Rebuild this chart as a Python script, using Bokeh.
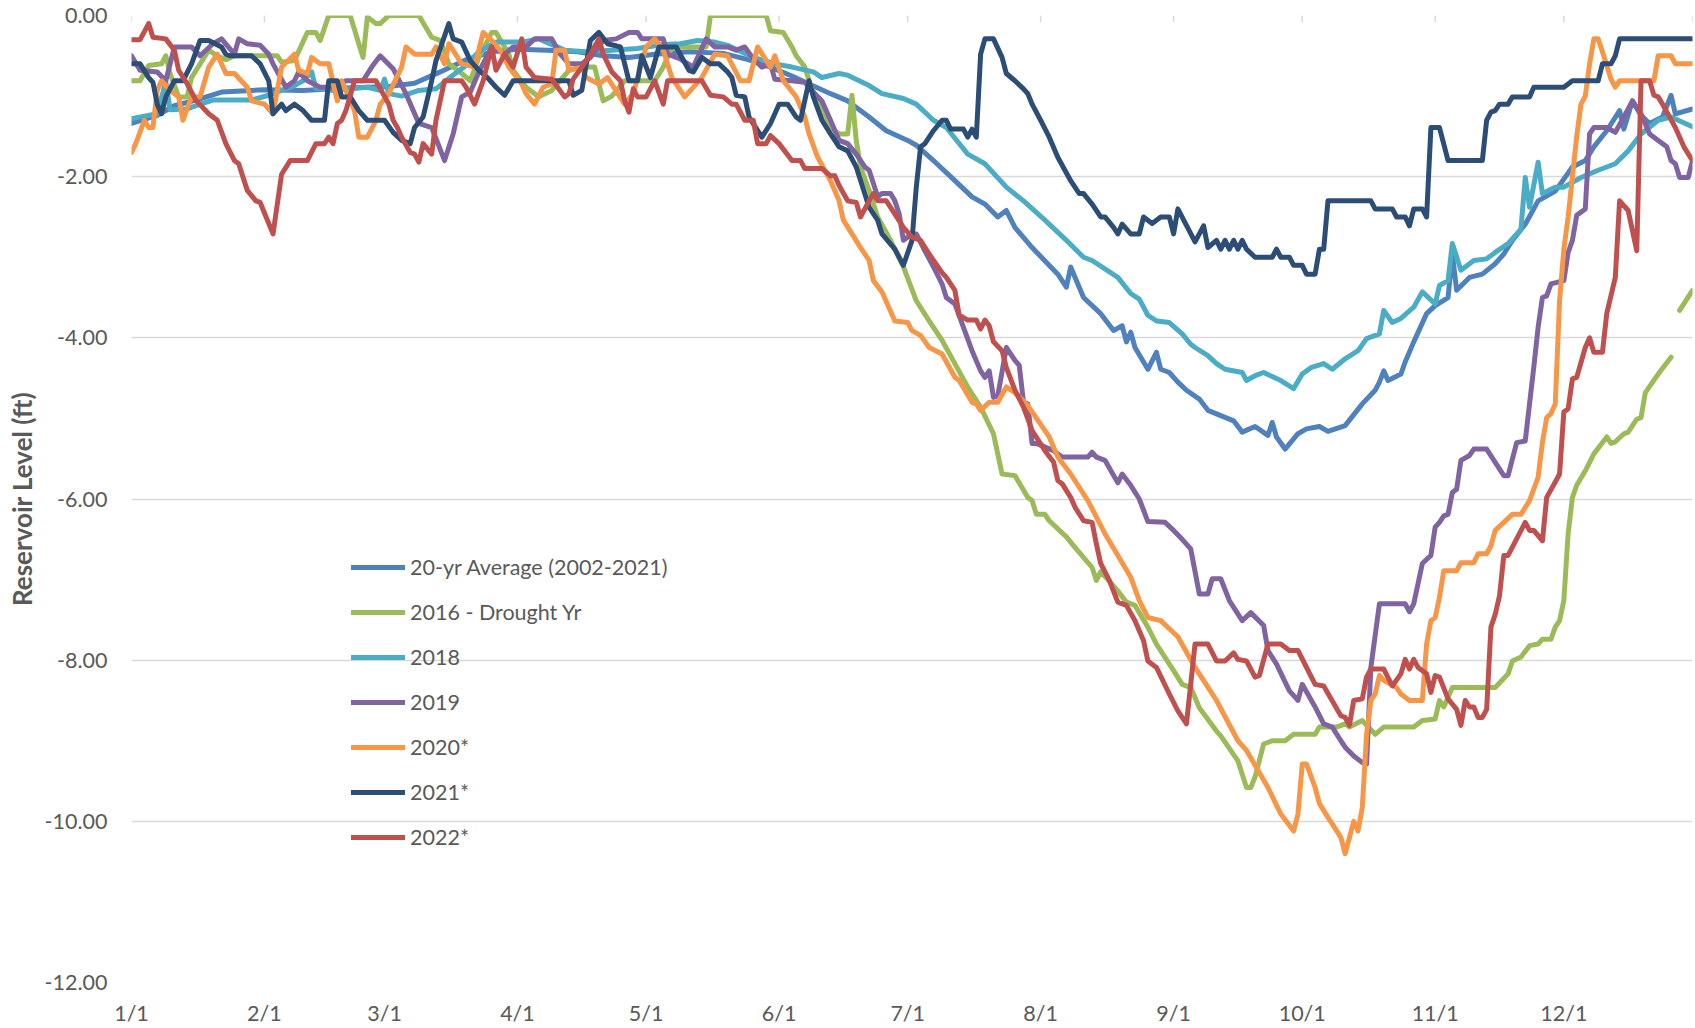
import numpy as np
from bokeh.plotting import figure
from bokeh.models import FixedTicker, Legend, LegendItem, NumeralTickFormatter, Range1d
from bokeh.embed import file_html
from bokeh.resources import INLINE

# ---------------- data (day of year from 1/1, reservoir level in ft) ----------------
month_ticks = [0, 31, 59, 90, 120, 151, 181, 212, 243, 273, 304, 334]
month_labels = ["1/1", "2/1", "3/1", "4/1", "5/1", "6/1", "7/1", "8/1", "9/1", "10/1", "11/1", "12/1"]
axis_end_day = 364
y_ticks = [0, -2, -4, -6, -8, -10, -12]

series_names = ["20-yr Average (2002-2021)", "2016 - Drought Yr", "2018", "2019", "2020*", "2021*", "2022*"]
series_colors = ["#4F81BD", "#9BBB59", "#4BACC6", "#8064A2", "#F79646", "#2C4D75", "#C0504D"]

avg_pts = [(0,-1.34),(6,-1.24),(10,-1.12),(15,-1.05),(21,-0.95),(28,-0.93),(31,-0.92),(40,-0.93),
    (50,-0.90),(60,-0.88),(66,-0.84),(72,-0.70),(78,-0.55),(84,-0.45),(90,-0.42),(97,-0.43),(104,-0.45),
    (110,-0.50),(116,-0.52),(122,-0.48),(130,-0.45),(138,-0.47),(144,-0.55),(149,-0.64),(154,-0.75),
    (158,-0.85),(163,-0.97),(167,-1.06),(172,-1.26),(176,-1.43),(181,-1.55),(183,-1.61),(187,-1.80),
    (192,-2.05),(196,-2.25),(199,-2.34),(202,-2.50),(204,-2.42),(206,-2.63),(210,-2.88),(216,-3.21),
    (218,-3.37),(219,-3.12),(222,-3.50),(226,-3.70),(229,-3.91),(231,-3.85),(232,-4.05),(233,-3.93),
    (234,-4.12),(237,-4.39),(239,-4.18),(240,-4.39),(242,-4.43),(244,-4.55),(246,-4.65),(249,-4.76),
    (251,-4.90),(257,-5.03),(259,-5.17),(262,-5.10),(265,-5.21),(266,-5.05),(267,-5.23),(269,-5.38),
    (272,-5.19),(274,-5.13),(277,-5.10),(279,-5.16),(283,-5.09),(287,-4.82),(290,-4.65),(291,-4.55),
    (292,-4.41),(293,-4.53),(296,-4.45),(297,-4.30),(299,-4.05),(302,-3.70),(304,-3.60),(307,-3.50),
    (308,-2.96),(309,-3.41),(312,-3.25),(315,-3.21),(318,-3.08),(320,-2.96),(322,-2.79),(325,-2.59),
    (328,-2.30),(332,-2.18),(336,-1.88),(339,-1.80),(341,-1.63),(344,-1.43),(347,-1.18),(348,-1.41),
    (350,-1.06),(352,-1.24),(354,-1.34),(357,-1.26),(359,-0.99),(360,-1.22),(364,-1.16)]

y2016_pts = [(0,-0.81),(2,-0.81),(4,-0.62),(7,-0.60),(8,-0.50),(9,-0.72),(11,-1.01),(13,-1.01),
    (14,-0.77),(16,-0.60),(18,-0.43),(20,-0.50),(22,-0.55),(24,-0.50),(34,-0.50),(35,-0.58),(38,-0.56),
    (41,-0.21),(43,-0.21),(44,-0.31),(46,0.0),(51,0.0),(53,-0.35),(54,-0.52),(55,-0.02),(57,-0.10),
    (58,-0.10),(60,0.0),(67,0.0),(70,-0.27),(72,-0.31),(74,-0.60),(77,-0.72),(79,-0.81),(81,-0.52),
    (84,-0.21),(85,-0.21),(88,-0.48),(89,-0.68),(92,-0.89),(95,-1.01),(98,-0.93),(102,-0.68),(105,-0.64),
    (108,-0.64),(110,-1.06),(112,-1.00),(115,-0.81),(122,-0.81),(124,-0.64),(126,-0.39),(134,-0.39),
    (135,0.0),(148,0.0),(149,-0.19),(152,-0.21),(154,-0.39),(155,-0.50),(157,-0.64),(158,-0.81),
    (159,-0.97),(161,-1.18),(163,-1.39),(165,-1.47),(167,-1.47),(168,-0.99),(169,-1.55),(170,-1.88),
    (172,-2.17),(174,-2.50),(177,-2.79),(180,-3.12),(183,-3.54),(186,-3.79),(189,-4.03),(192,-4.32),
    (195,-4.61),(198,-4.86),(201,-5.19),(203,-5.69),(206,-5.71),(209,-5.98),(210,-6.02),(211,-6.19),
    (213,-6.19),(214,-6.27),(218,-6.47),(220,-6.60),(224,-6.85),(225,-7.01),(226,-6.90),(230,-7.14),
    (232,-7.28),(234,-7.32),(237,-7.59),(239,-7.80),(243,-8.13),(245,-8.30),(247,-8.34),(249,-8.59),
    (253,-8.88),(254,-8.94),(258,-9.25),(260,-9.58),(261,-9.58),(262,-9.45),(264,-9.04),(266,-9.00),
    (269,-9.00),(271,-8.92),(276,-8.92),(277,-8.83),(281,-8.83),(283,-8.79),(284,-8.83),(287,-8.75),
    (290,-8.92),(292,-8.83),(299,-8.83),(301,-8.75),(304,-8.73),(305,-8.50),(306,-8.58),(308,-8.34),
    (318,-8.34),(321,-8.17),(322,-8.01),(324,-7.96),(326,-7.82),(328,-7.80),(329,-7.74),(331,-7.74),
    (332,-7.59),(333,-7.51),(334,-7.26),(335,-6.43),(336,-5.98),(337,-5.83),(339,-5.65),(341,-5.44),
    (344,-5.23),(345,-5.31),(346,-5.29),(348,-5.19),(349,-5.17),(351,-5.01),(352,-4.99),(353,-4.68),
    (356,-4.45),(359,-4.24),(360,None),(361,-3.66),(364,-3.41)]

y2018_pts = [(0,-1.28),(6,-1.22),(8,-0.82),(9,-1.17),(13,-1.16),(16,-1.10),(19,-1.05),(24,-1.05),
    (28,-1.05),(32,-0.99),(35,-0.93),(38,-0.87),(40,-0.81),(42,-0.70),(43,-0.90),(47,-0.93),(51,-0.91),
    (55,-0.89),(58,-0.93),(59,-0.79),(60,-0.97),(63,-1.00),(67,-0.93),(71,-0.91),(74,-0.78),(78,-0.62),
    (81,-0.45),(85,-0.33),(91,-0.33),(95,-0.29),(101,-0.43),(106,-0.45),(112,-0.43),(118,-0.41),
    (124,-0.36),(128,-0.35),(132,-0.31),(136,-0.33),(139,-0.37),(145,-0.52),(150,-0.60),(154,-0.64),
    (159,-0.70),(161,-0.77),(165,-0.72),(167,-0.74),(172,-0.87),(175,-0.97),(180,-1.03),(183,-1.10),
    (187,-1.30),(190,-1.39),(195,-1.72),(199,-1.84),(204,-2.13),(208,-2.30),(213,-2.54),(218,-2.79),
    (222,-3.00),(224,-3.04),(230,-3.25),(233,-3.45),(235,-3.52),(237,-3.72),(239,-3.79),(242,-3.81),
    (245,-3.95),(247,-4.08),(248,-4.12),(251,-4.22),(253,-4.32),(255,-4.39),(259,-4.43),(260,-4.53),
    (262,-4.47),(264,-4.43),(268,-4.53),(271,-4.63),(273,-4.45),(275,-4.37),(278,-4.32),(280,-4.39),
    (283,-4.26),(286,-4.16),(288,-4.01),(291,-3.95),(292,-3.66),(294,-3.81),(296,-3.76),(299,-3.62),
    (301,-3.43),(304,-3.58),(305,-3.35),(307,-3.29),(308,-2.83),(310,-3.16),(313,-3.04),(316,-3.02),
    (318,-2.94),(321,-2.83),(324,-2.65),(325,-2.01),(326,-2.38),(328,-1.82),(329,-2.21),(332,-2.13),
    (334,-2.13),(338,-2.01),(342,-1.92),(346,-1.84),(349,-1.68),(352,-1.47),(356,-1.30),(359,-1.26),
    (364,-1.38)]

y2019_pts = [(0,-0.50),(2,-0.68),(6,-0.70),(8,-0.81),(10,-0.39),(14,-0.39),(16,-0.50),(19,-0.35),
    (21,-0.29),(24,-0.48),(25,-0.29),(27,-0.35),(30,-0.37),(32,-0.48),(33,-0.60),(36,-0.89),(38,-0.81),
    (39,-0.70),(41,-0.81),(44,-0.89),(47,-0.89),(50,-0.81),(54,-0.81),(56,-0.64),(58,-0.50),(61,-0.66),
    (64,-0.97),(67,-1.34),(70,-1.39),(73,-1.80),(75,-1.47),(77,-1.01),(79,-0.95),(81,-0.70),(84,-0.39),
    (87,-0.48),(89,-0.39),(92,-0.39),(94,-0.29),(98,-0.29),(100,-0.48),(102,-0.60),(105,-0.60),
    (107,-0.52),(110,-0.31),(113,-0.29),(116,-0.21),(118,-0.21),(119,-0.29),(124,-0.29),(125,-0.48),
    (128,-0.54),(131,-0.64),(134,-0.29),(136,-0.39),(139,-0.39),(141,-0.43),(143,-0.39),(145,-0.54),
    (147,-0.64),(149,-0.60),(150,-0.79),(154,-0.81),(157,-0.83),(159,-0.95),(161,-1.06),(163,-1.30),
    (165,-1.55),(167,-1.59),(169,-1.72),(171,-1.88),(172,-1.92),(174,-2.25),(175,-2.21),(177,-2.21),
    (178,-2.30),(179,-2.46),(180,-2.79),(182,-2.71),(183,-2.71),(185,-2.92),(187,-3.12),(189,-3.33),
    (190,-3.50),(192,-3.58),(194,-3.87),(196,-4.16),(198,-4.41),(199,-4.49),(200,-4.41),(201,-4.74),
    (202,-4.72),(204,-4.12),(206,-4.28),(207,-4.34),(208,-4.80),(209,-4.82),(210,-5.31),(211,-5.31),
    (215,-5.40),(217,-5.48),(223,-5.48),(224,-5.42),(225,-5.48),(227,-5.52),(230,-5.80),(231,-5.69),
    (233,-5.83),(235,-6.00),(237,-6.28),(241,-6.29),(243,-6.39),(245,-6.50),(247,-6.62),(249,-7.18),
    (251,-7.18),(252,-6.99),(254,-6.99),(256,-7.26),(259,-7.51),(261,-7.41),(264,-7.57),(265,-7.88),
    (267,-8.05),(270,-8.38),(272,-8.50),(273,-8.30),(276,-8.58),(278,-8.79),(280,-8.83),(282,-9.00),
    (283,-9.08),(285,-9.19),(287,-9.27),(288,-9.29),(289,-8.09),(291,-7.30),(297,-7.30),(298,-7.40),
    (299,-7.30),(301,-6.80),(303,-6.70),(304,-6.35),(305,-6.29),(306,-6.21),(307,-6.19),(308,-5.92),
    (309,-5.88),(310,-5.52),(312,-5.46),(313,-5.38),(316,-5.38),(320,-5.71),(321,-5.71),(323,-5.30),
    (325,-5.28),(326,-4.82),(327,-4.36),(328,-3.87),(329,-3.50),(330,-3.48),(331,-3.33),(334,-3.29),
    (335,-2.94),(336,-2.79),(337,-2.48),(339,-2.40),(340,-1.47),(341,-1.39),(344,-1.39),(346,-1.45),
    (348,-1.26),(350,-1.06),(352,-1.22),(354,-1.47),(356,-1.55),(358,-1.63),(359,-1.80),(360,-1.84),
    (361,-2.01),(363,-2.01),(364,-1.80)]

y2020_pts = [(0,-1.70),(1,-1.59),(3,-1.30),(4,-1.39),(5,-1.39),(6,-0.93),(7,-0.81),(9,-0.93),
    (11,-1.01),(12,-1.30),(14,-1.01),(16,-1.01),(18,-0.64),(20,-0.48),(22,-0.72),(24,-0.72),(27,-0.89),
    (28,-1.06),(31,-1.10),(33,-1.22),(35,-0.64),(38,-0.48),(39,-0.68),(41,-0.72),(42,-0.52),(44,-0.60),
    (46,-0.60),(48,-1.06),(49,-0.81),(52,-1.18),(53,-1.51),(55,-1.51),(57,-1.30),(58,-1.10),(60,-0.97),
    (63,-0.64),(64,-0.39),(66,-0.48),(70,-0.48),(71,-0.39),(73,-0.60),(74,-0.35),(77,-0.60),(80,-0.64),
    (82,-0.21),(84,-0.31),(86,-0.43),(88,-0.64),(91,-0.85),(92,-0.97),(94,-1.10),(96,-0.89),(98,-0.85),
    (99,-0.43),(101,-0.43),(102,-0.68),(105,-0.64),(106,-0.77),(109,-0.85),(111,-0.77),(115,-1.10),
    (117,-0.97),(120,-0.39),(122,-0.29),(124,-0.43),(126,-0.77),(129,-1.01),(133,-0.77),(136,-0.48),
    (139,-0.50),(142,-0.81),(144,-0.81),(146,-0.39),(149,-0.64),(150,-0.50),(152,-0.81),(155,-1.01),
    (157,-1.26),(158,-1.47),(160,-1.76),(163,-2.05),(165,-2.30),(166,-2.54),(168,-2.71),(170,-2.88),
    (172,-3.04),(173,-3.29),(175,-3.43),(178,-3.79),(181,-3.81),(182,-3.91),(184,-3.97),(186,-4.12),
    (189,-4.20),(192,-4.49),(193,-4.53),(196,-4.80),(197,-4.82),(198,-4.90),(200,-4.80),(202,-4.80),
    (204,-4.61),(206,-4.68),(209,-4.84),(210,-4.92),(214,-5.23),(216,-5.48),(219,-5.69),(223,-6.02),
    (227,-6.43),(233,-6.97),(235,-7.26),(237,-7.47),(240,-7.51),(242,-7.61),(244,-7.71),(248,-8.09),
    (253,-8.50),(258,-9.00),(260,-9.12),(265,-9.58),(268,-9.91),(271,-10.12),(272,-9.91),(273,-9.29),
    (274,-9.29),(276,-9.58),(277,-9.78),(279,-9.95),(282,-10.20),(283,-10.40),(285,-10.00),(286,-10.12),
    (287,-9.83),(288,-8.92),(289,-8.50),(290,-8.42),(291,-8.19),(292,-8.25),(295,-8.34),(296,-8.42),
    (298,-8.50),(301,-8.50),(302,-7.80),(303,-7.51),(304,-7.47),(305,-7.22),(306,-6.89),(309,-6.89),
    (310,-6.79),(313,-6.79),(314,-6.68),(316,-6.68),(317,-6.58),(318,-6.39),(320,-6.29),(322,-6.19),
    (324,-6.19),(326,-6.02),(328,-5.73),(329,-5.30),(330,-4.99),(331,-4.94),(332,-4.82),(333,-3.54),
    (334,-2.90),(335,-2.50),(336,-2.00),(337,-1.50),(338,-1.10),(339,-1.00),(340,-0.60),(341,-0.29),
    (342,-0.29),(343,-0.45),(345,-0.79),(346,-0.89),(347,-0.81),(355,-0.81),(356,-0.50),(359,-0.50),
    (360,-0.60),(364,-0.60)]

y2021_pts = [(0,-0.60),(2,-0.60),(4,-0.77),(5,-0.83),(6,-1.10),(7,-1.22),(8,-1.01),(10,-0.81),
    (12,-0.81),(14,-0.60),(16,-0.31),(18,-0.31),(21,-0.39),(22,-0.48),(23,-0.50),(28,-0.50),(30,-0.60),
    (32,-0.81),(33,-1.22),(35,-1.10),(36,-1.18),(38,-1.10),(40,-1.18),(42,-1.30),(45,-1.30),(46,-0.81),
    (48,-0.81),(49,-1.01),(51,-1.01),(53,-1.18),(55,-1.30),(59,-1.30),(61,-1.45),(63,-1.55),(65,-1.59),
    (66,-1.39),(68,-1.26),(70,-0.81),(71,-0.56),(74,-0.10),(75,-0.29),(77,-0.33),(79,-0.56),(81,-0.68),
    (83,-0.77),(85,-0.89),(87,-0.99),(89,-0.81),(102,-0.81),(103,-0.99),(105,-0.93),(107,-0.31),
    (109,-0.21),(111,-0.35),(114,-0.39),(116,-0.81),(118,-0.81),(119,-0.50),(121,-0.77),(123,-0.39),
    (127,-0.39),(130,-0.68),(131,-0.70),(133,-0.52),(135,-0.60),(137,-0.60),(139,-0.70),(140,-0.77),
    (141,-0.99),(143,-1.01),(144,-1.26),(147,-1.51),(149,-1.34),(151,-1.10),(153,-1.10),(155,-1.26),
    (156,-1.30),(158,-0.81),(159,-1.01),(161,-1.30),(163,-1.47),(165,-1.63),(167,-1.68),(169,-1.88),
    (172,-2.38),(174,-2.54),(175,-2.71),(178,-2.90),(180,-3.10),(182,-2.79),(183,-2.13),(184,-1.63),
    (185,-1.59),(187,-1.43),(189,-1.30),(190,-1.30),(191,-1.41),(194,-1.41),(195,-1.51),(196,-1.41),
    (197,-1.51),(198,-0.48),(199,-0.29),(201,-0.29),(203,-0.52),(204,-0.72),(206,-0.81),(208,-0.91),
    (209,-0.97),(210,-1.10),(212,-1.30),(214,-1.51),(216,-1.76),(219,-2.05),(221,-2.21),(222,-2.21),
    (224,-2.34),(226,-2.50),(227,-2.50),(229,-2.63),(230,-2.71),(231,-2.59),(233,-2.71),(235,-2.71),
    (236,-2.50),(238,-2.58),(240,-2.50),(242,-2.50),(243,-2.71),(244,-2.40),(248,-2.81),(250,-2.61),
    (251,-2.88),(253,-2.79),(254,-2.90),(255,-2.79),(256,-2.90),(257,-2.79),(258,-2.90),(259,-2.79),
    (260,-2.90),(262,-3.00),(266,-3.00),(267,-2.90),(268,-3.00),(270,-3.00),(271,-3.10),(273,-3.10),
    (274,-3.21),(276,-3.21),(277,-2.90),(278,-2.90),(279,-2.30),(289,-2.30),(290,-2.40),(294,-2.40),
    (295,-2.50),(297,-2.50),(298,-2.61),(299,-2.40),(301,-2.40),(302,-2.50),(303,-1.39),(305,-1.39),
    (307,-1.80),(315,-1.80),(316,-1.30),(317,-1.20),(318,-1.18),(319,-1.10),(321,-1.10),(322,-1.01),
    (326,-1.01),(327,-0.89),(334,-0.89),(336,-0.81),(342,-0.81),(343,-0.60),(345,-0.60),(346,-0.50),
    (347,-0.29),(364,-0.29)]

y2022_pts = [(0,-0.30),(2,-0.30),(4,-0.10),(5,-0.27),(8,-0.29),(10,-0.43),(11,-0.68),(13,-0.85),
    (15,-1.05),(18,-1.22),(20,-1.30),(22,-1.59),(24,-1.80),(25,-1.84),(27,-2.17),(29,-2.30),(30,-2.32),
    (33,-2.71),(35,-1.97),(37,-1.80),(41,-1.80),(43,-1.59),(45,-1.59),(46,-1.51),(47,-1.59),(48,-1.34),
    (49,-1.30),(50,-1.18),(52,-0.81),(57,-0.81),(60,-1.10),(61,-1.30),(62,-1.39),(63,-1.51),(65,-1.70),
    (66,-1.72),(67,-1.82),(68,-1.59),(70,-1.72),(71,-1.30),(73,-0.81),(77,-0.81),(78,-0.89),(80,-1.10),
    (82,-0.81),(84,-0.39),(85,-0.68),(87,-0.48),(89,-0.64),(91,-0.29),(92,-0.64),(94,-0.77),(98,-0.79),
    (101,-1.01),(102,-0.97),(103,-0.79),(105,-0.64),(107,-0.48),(109,-0.29),(110,-0.48),(112,-0.70),
    (114,-0.81),(115,-1.06),(116,-1.20),(117,-0.91),(118,-1.01),(120,-1.01),(122,-0.81),(124,-1.10),
    (125,-0.81),(133,-0.81),(135,-0.99),(138,-1.01),(140,-1.10),(141,-1.10),(143,-1.30),(145,-1.30),
    (146,-1.59),(148,-1.59),(149,-1.49),(151,-1.59),(154,-1.80),(156,-1.80),(157,-1.90),(161,-1.90),
    (163,-1.99),(164,-1.99),(165,-2.11),(167,-2.30),(169,-2.32),(170,-2.50),(172,-2.30),(173,-2.21),
    (174,-2.30),(176,-2.30),(177,-2.38),(180,-2.63),(182,-2.75),(184,-2.79),(186,-2.96),(189,-3.19),
    (190,-3.25),(192,-3.41),(193,-3.72),(195,-3.78),(197,-3.78),(198,-3.89),(199,-3.78),(200,-3.85),
    (201,-4.05),(203,-4.16),(204,-4.37),(206,-4.65),(208,-4.86),(210,-5.15),(213,-5.40),(215,-5.54),
    (216,-5.77),(217,-5.81),(219,-5.98),(220,-6.10),(222,-6.27),(224,-6.29),(225,-6.56),(226,-6.80),
    (228,-7.01),(230,-7.28),(232,-7.32),(234,-7.51),(236,-7.76),(237,-8.01),(239,-8.09),(242,-8.42),
    (244,-8.63),(246,-8.79),(248,-7.80),(251,-7.80),(253,-8.01),(255,-8.01),(257,-7.91),(258,-7.99),
    (260,-8.01),(262,-8.21),(263,-8.19),(265,-7.80),(268,-7.80),(270,-7.88),(272,-7.88),(276,-8.30),
    (278,-8.32),(282,-8.69),(283,-8.71),(284,-8.81),(285,-8.50),(287,-8.48),(288,-8.21),(289,-8.11),
    (292,-8.11),(294,-8.32),(296,-8.17),(297,-7.99),(298,-8.11),(299,-7.99),(300,-8.09),(302,-8.17),
    (303,-8.40),(304,-8.19),(305,-8.21),(307,-8.48),(309,-8.61),(310,-8.81),(311,-8.50),(312,-8.58),
    (313,-8.58),(314,-8.71),(315,-8.71),(316,-8.61),(317,-7.59),(318,-7.43),(319,-7.20),(320,-6.70),
    (321,-6.70),(325,-6.29),(326,-6.39),(327,-6.39),(329,-6.52),(330,-5.98),(332,-5.79),(333,-5.69),
    (334,-4.92),(335,-4.88),(336,-4.51),(337,-4.49),(339,-4.12),(340,-4.00),(341,-4.18),(343,-4.18),
    (344,-3.70),(346,-3.25),(347,-2.30),(349,-2.42),(351,-2.92),(352,-0.81),(354,-0.81),(355,-0.99),
    (356,-1.01),(357,-1.10),(360,-1.39),(362,-1.63),(364,-1.80)]

all_series = [avg_pts, y2016_pts, y2018_pts, y2019_pts, y2020_pts, y2021_pts, y2022_pts]

# ---------------- figure ----------------
FONT = "Lato"
TXT = "#595959"
GRID = "#D9D9D9"

p = figure(width=1694, height=1028, output_backend="svg", toolbar_location=None,
           x_range=Range1d(0, axis_end_day), y_range=Range1d(-12, 0),
           min_border_left=131, min_border_right=2, min_border_top=15, min_border_bottom=46)
p.outline_line_color = None
p.background_fill_color = "white"
p.border_fill_color = "white"

p.xgrid.visible = False
p.ygrid.grid_line_color = GRID
p.ygrid.grid_line_width = 1.5

p.yaxis.ticker = FixedTicker(ticks=y_ticks)
p.yaxis.formatter = NumeralTickFormatter(format="0.00")
p.yaxis.axis_line_color = None
p.yaxis.major_tick_line_color = None
p.yaxis.minor_tick_line_color = None
p.yaxis.major_label_standoff = 18
p.yaxis.major_label_text_font = FONT
p.yaxis.major_label_text_font_size = "21.5px"
p.yaxis.major_label_text_color = TXT
p.yaxis.axis_label = "Reservoir Level (ft)"
p.yaxis.axis_label_text_font = FONT
p.yaxis.axis_label_text_font_size = "26px"
p.yaxis.axis_label_text_font_style = "bold"
p.yaxis.axis_label_text_color = TXT
p.yaxis.axis_label_standoff = 4

p.xaxis.ticker = FixedTicker(ticks=month_ticks)
p.xaxis.major_label_overrides = {d: lab for d, lab in zip(month_ticks, month_labels)}
p.xaxis.axis_line_color = None
p.xaxis.major_tick_line_color = None
p.xaxis.minor_tick_line_color = None
p.xaxis.major_label_standoff = 11
p.xaxis.major_label_text_font = FONT
p.xaxis.major_label_text_font_size = "21.5px"
p.xaxis.major_label_text_color = TXT

# small category tick marks hanging from the 0.00 line
tick_days = month_ticks + [axis_end_day]
p.segment(x0=tick_days, y0=[0] * len(tick_days), x1=tick_days, y1=[-0.085] * len(tick_days),
          line_color=GRID, line_width=1.5)

items = []
for name, color, pts in zip(series_names, series_colors, all_series):
    xs = [d for d, v in pts]
    ys = [np.nan if v is None else v for d, v in pts]
    r = p.line(xs, ys, line_color=color, line_width=5, line_join="round", line_cap="round")
    items.append(LegendItem(label=name, renderers=[r]))

legend = Legend(items=items, location=(220, 132), orientation="vertical",
                glyph_width=54, glyph_height=26, label_height=26, spacing=19,
                label_standoff=5, padding=0, margin=0,
                background_fill_alpha=0, border_line_alpha=0,
                label_text_font=FONT, label_text_font_size="21.5px", label_text_color=TXT)
p.add_layout(legend)

open("out.html", "w").write(file_html(p, INLINE))
